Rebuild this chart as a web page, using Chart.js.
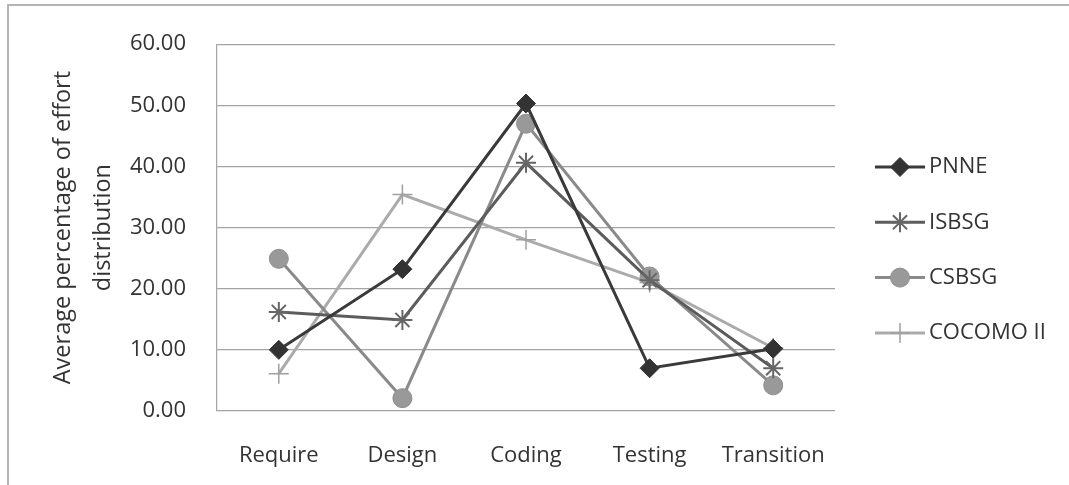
<!DOCTYPE html>
<html>
<head>
<meta charset="utf-8">
<script src="https://cdn.jsdelivr.net/npm/chart.js@4/dist/chart.umd.min.js"></script>
<style>
  html, body { margin: 0; padding: 0; background: #ffffff; }
  #wrap { width: 1069px; height: 485px; position: relative; }
</style>
</head>
<body>
<div id="wrap"><canvas id="c"></canvas></div>
<script>
// Phases of the software life cycle
const phases = ['Require', 'Design', 'Coding', 'Testing', 'Transition'];

// Average percentage of effort per phase for each estimation source
const pnne   = [10.0, 23.2, 50.3, 7.0, 10.2];
const isbsg  = [16.2, 14.9, 40.6, 21.4, 7.0];
const csbsg  = [24.9, 2.1, 47.0, 22.0, 4.2];
const cocomo = [6.1, 35.4, 28.0, 21.0, 10.3];

const seriesNames = ['PNNE', 'ISBSG', 'CSBSG', 'COCOMO II'];
const yTicks = [0, 10, 20, 30, 40, 50, 60];

const FONT = '"Open Sans", "DejaVu Sans", sans-serif';
const TEXT = '#333333';

// Legend on the right: a short line with the marker in its middle
const sideLegend = {
  id: 'sideLegend',
  afterDraw(chart) {
    const ctx = chart.ctx;
    const x0 = 875, x1 = 925, y0 = 167, step = 55.3;
    chart.data.datasets.forEach((ds, i) => {
      const y = y0 + i * step;
      ctx.save();
      ctx.strokeStyle = ds.borderColor;
      ctx.lineWidth = ds.borderWidth;
      ctx.beginPath();
      ctx.moveTo(x0, y);
      ctx.lineTo(x1, y);
      ctx.stroke();
      ctx.fillStyle = ds.pointBackgroundColor;
      ctx.strokeStyle = ds.pointBorderColor;
      ctx.lineWidth = ds.pointBorderWidth;
      Chart.helpers.drawPoint(ctx, {
        pointStyle: ds.pointStyle,
        radius: ds.pointRadius,
        borderWidth: ds.pointBorderWidth
      }, (x0 + x1) / 2, y);
      ctx.fillStyle = TEXT;
      ctx.font = '22px ' + FONT;
      ctx.textBaseline = 'middle';
      ctx.textAlign = 'left';
      ctx.fillText(ds.label, x1 + 4, y);
      ctx.restore();
    });
  }
};

// Outer frame around the chart object
const frame = {
  id: 'frame',
  beforeDraw(chart) {
    const ctx = chart.ctx;
    ctx.save();
    ctx.strokeStyle = '#b4b4b4';
    ctx.lineWidth = 2;
    ctx.beginPath();
    ctx.moveTo(8, 485);
    ctx.lineTo(8, 5);
    ctx.lineTo(1069, 5);
    ctx.stroke();
    ctx.restore();
  }
};

const styles = [
  { line: '#3a3a3a', fill: '#333333', stroke: '#333333', style: 'rectRot', r: 9.5, bw: 1 },
  { line: '#5c5c5c', fill: '#5c5c5c', stroke: '#666666', style: 'star', r: 10, bw: 2 },
  { line: '#8a8a8a', fill: '#999999', stroke: '#8e8e8e', style: 'circle', r: 9.5, bw: 1 },
  { line: '#ababab', fill: '#ababab', stroke: '#a0a0a0', style: 'cross', r: 10, bw: 1.5 }
];

const values = [pnne, isbsg, csbsg, cocomo];

new Chart(document.getElementById('c'), {
  type: 'line',
  data: {
    labels: phases,
    datasets: values.map((v, i) => ({
      label: seriesNames[i],
      data: v,
      borderColor: styles[i].line,
      borderWidth: 3,
      tension: 0,
      pointStyle: styles[i].style,
      pointRadius: styles[i].r,
      pointBackgroundColor: styles[i].fill,
      pointBorderColor: styles[i].stroke,
      pointBorderWidth: styles[i].bw,
      pointHoverRadius: styles[i].r
    }))
  },
  options: {
    responsive: true,
    maintainAspectRatio: false,
    animation: false,
    layout: { padding: { left: 0, top: 41, right: 234, bottom: 0 } },
    plugins: {
      legend: { display: false },
      tooltip: { enabled: false }
    },
    scales: {
      x: {
        offset: true,
        grid: { display: false, drawTicks: false },
        border: { display: false },
        ticks: { color: TEXT, font: { family: FONT, size: 22 }, padding: 32 },
        afterFit(scale) { scale.height = 74; }
      },
      y: {
        min: 0,
        max: 60,
        afterBuildTicks(scale) { scale.ticks = yTicks.map(v => ({ value: v })); },
        grid: { color: '#a4a4a4', lineWidth: 1.2, drawTicks: false },
        border: { display: true, color: '#a4a4a4', width: 1.2 },
        ticks: {
          color: TEXT,
          font: { family: FONT, size: 22 },
          padding: 31,
          callback: v => Number(v).toFixed(2)
        },
        title: {
          display: true,
          text: ['Average percentage of effort', 'distribution'],
          color: TEXT,
          font: { family: FONT, size: 23.5, lineHeight: 1.70 },
          padding: { top: 43, bottom: 0 }
        },
        afterFit(scale) { scale.width = 217; }
      }
    }
  },
  plugins: [frame, sideLegend]
});
</script>
</body>
</html>
